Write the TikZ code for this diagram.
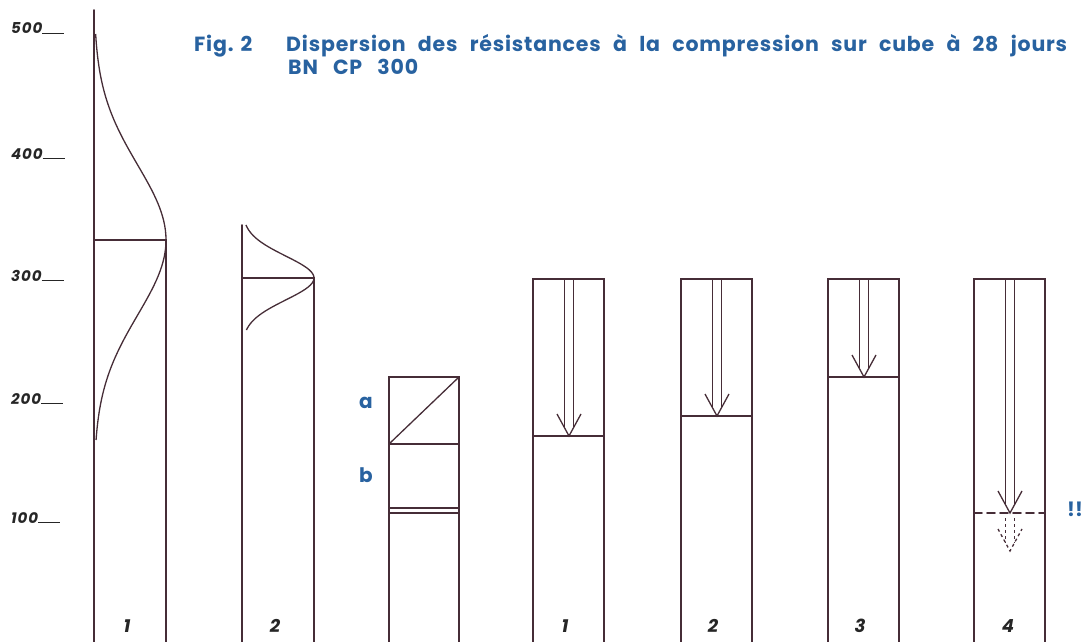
\documentclass[tikz,border=0pt]{standalone}
\usepackage{fontspec}
\setmainfont{Poppins}
\usepackage{tikz}
\usetikzlibrary{positioning}
\definecolor{inkline}{RGB}{70,45,55}
\definecolor{titleblue}{RGB}{40,98,160}
\tikzset{
    column/.style={line width=1.7pt, draw=inkline, line cap=round}, % outlines of the columns
    curve/.style={line width=1.3pt, draw=inkline}, % distribution curves
    arrowline/.style={line width=1.3pt, draw=inkline}, % hollow arrows
    title/.style={font=\fontsize{20.5}{23}\selectfont\bfseries\addfontfeatures{LetterSpace=4}, text=titleblue, inner sep=0pt, anchor=base west},
    tick/.style={font=\fontsize{15}{17}\selectfont\bfseries\itshape\addfontfeatures{LetterSpace=6}, text=black!85, inner sep=0pt, anchor=base west},
    colnum/.style={font=\fontsize{18}{20}\selectfont\bfseries\itshape, text=black!85},
    letter/.style={font=\fontsize{20}{22}\selectfont\bfseries, text=titleblue},
}
% hollow arrow: x, top, tip
\newcommand{\hollowarrow}[4][]{%
    \draw[arrowline,#1] (#2-4.5,#3) -- (#2-4.5,#4-8) (#2+4.5,#3) -- (#2+4.5,#4-8);
    \draw[arrowline,#1] (#2-12,#4-22) -- (#2,#4) -- (#2+12,#4-22);
}

\begin{document}
\begin{tikzpicture}[x=1pt, y=-1pt]
    \useasboundingbox (0,0) rectangle (1085,642);

    % scale
    \foreach \v/\h in {500/30, 400/155, 300/277, 200/400, 100/519}
        \node[tick] (t\v) at (11,\h+4) {\v\rule{22pt}{1.1pt}};

    % title
    \node[title] (fig) at (194,52) {Fig. 2};
    \node[title] (head) at (286,52) {\makebox[781pt][s]{Dispersion des résistances à la compression sur cube à 28 jours}};
    \node[title] (sub) at (288,75) {\makebox[130pt][s]{BN CP 300}};

    % column 1
    \draw[column] (94,10) -- (94,642);
    \draw[column] (94,240) -- (166,240) -- (166,642);
    \draw[curve] plot[domain=-206:200, samples=90] ({94+72*exp(-0.5*(\x/75)*(\x/75))}, {240+\x});
    \node[colnum] (n1) at (127,626) {1};

    % column 2
    \draw[column] (242,225) -- (242,642);
    \draw[column] (242,278) -- (314,278) -- (314,642);
    \draw[curve] plot[domain=-53:52, samples=50] ({242+72*exp(-0.5*(\x/22)*(\x/22))}, {278+\x});
    \node[colnum] (n2) at (275,626) {2};

    % column a / b
    \draw[column] (389,642) -- (389,377) -- (459,377) -- (459,642);
    \draw[column] (389,444) -- (459,444);
    \draw[curve] (389,444) -- (459,377);
    \draw[column] (389,508) -- (459,508);
    \draw[column] (389,513) -- (459,513);
    \node[letter] (la) at (366,403) {a};
    \node[letter] (lb) at (366,475) {b};

    % columns with arrows
    \foreach \xl/\yl/\n in {533/436/1, 681/416/2, 828/377/3} {
        \draw[column] (\xl,642) -- (\xl,279) -- (\xl+71,279) -- (\xl+71,642);
        \draw[column] (\xl,\yl) -- (\xl+71,\yl);
        \hollowarrow{\xl+36}{280}{\yl}
        \node[colnum] at (\xl+32,626) {\n};
    }

    % column 4
    \draw[column] (974,642) -- (974,279) -- (1045,279) -- (1045,642);
    \draw[column, dash pattern=on 8pt off 5pt] (974,513) -- (1045,513);
    \hollowarrow{1010}{280}{513}
    \hollowarrow[dashed]{1010}{518}{551}
    \node[colnum] (n7) at (1008,626) {4};
    \node[letter] (warn) at (1075,509) {!!};
\end{tikzpicture}
\end{document}
